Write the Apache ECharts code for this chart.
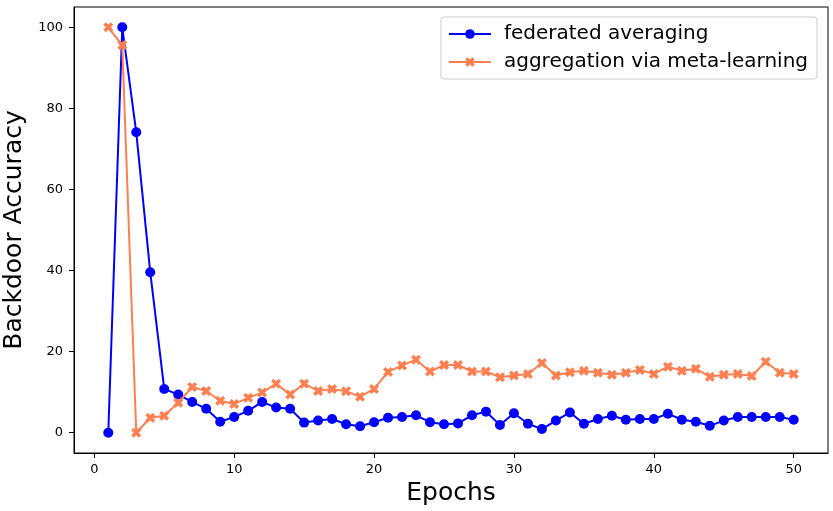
<!DOCTYPE html>
<html><head><meta charset="utf-8">
<script src="https://cdn.jsdelivr.net/npm/echarts@6/dist/echarts.min.js"></script>
<style>html,body{margin:0;padding:0;background:#fff}#c{width:833px;height:511px}</style>
</head><body><div id="c"></div>
<script>
const epochs = Array.from({length:50},(_,i)=>i+1);
const fedAvg = [0,100,74.1,39.6,10.8,9.4,7.6,5.9,2.7,3.9,5.4,7.6,6.2,5.9,2.5,3.0,3.4,2.1,1.6,2.6,3.7,3.9,4.3,2.6,2.1,2.3,4.3,5.2,1.9,4.8,2.2,0.9,3.0,5.0,2.2,3.4,4.2,3.2,3.4,3.4,4.7,3.2,2.7,1.7,3.0,3.9,3.9,3.9,3.9,3.2];
const metaAgg = [100,95.6,0,3.7,4.2,7.4,11.3,10.3,7.9,7.1,8.6,9.9,12.1,9.4,12.1,10.3,10.8,10.2,8.9,10.8,15.0,16.6,18.0,15.1,16.7,16.7,15.1,15.1,13.7,14.1,14.5,17.2,14.1,14.9,15.3,14.8,14.3,14.8,15.5,14.5,16.3,15.3,15.8,13.8,14.3,14.5,14.0,17.5,14.8,14.5];
const xTicks = [0,10,20,30,40,50];
const yTicks = [0,20,40,60,80,100];
const seriesNames = ['federated averaging','aggregation via meta-learning'];

const xMark = 'path://M1,0 L2,1 L3,0 L4,1 L3,2 L4,3 L3,4 L2,3 L1,4 L0,3 L1,2 L0,1 Z';
const chart = echarts.init(document.getElementById('c'));
const font = 'DejaVu Sans';
chart.setOption({
  animation:false,
  textStyle:{fontFamily:font},
  grid:{left:74,right:5,top:7,bottom:58,outerBoundsMode:'none',containLabel:false,show:true,borderColor:'#000',borderWidth:1},
  legend:{
    right:16, top:17, orient:'vertical',
    data:seriesNames,
    itemWidth:42, itemHeight:12, itemGap:8,
    padding:[7,9,7,7],
    borderColor:'#cccccc', borderWidth:1, borderRadius:3,
    textStyle:{fontFamily:font,fontSize:20,color:'#000',padding:[0,0,0,8]}
  },
  xAxis:{
    type:'value', min:-1.45, max:52.45,
    name:'Epochs', nameLocation:'middle', nameGap:28,
    nameTextStyle:{fontFamily:font,fontSize:25,color:'#000'},
    axisLine:{show:true,onZero:false,lineStyle:{color:'#000',width:1}},
    axisTick:{show:true,length:5,lineStyle:{color:'#000'},customValues:xTicks},
    axisLabel:{color:'#000',fontSize:13,fontFamily:font,margin:10,customValues:xTicks},
    splitLine:{show:false}
  },
  yAxis:{
    type:'value', min:-5, max:105,
    name:'Backdoor Accuracy', nameLocation:'middle', nameGap:42,
    nameTextStyle:{fontFamily:font,fontSize:25,color:'#000'},
    axisLine:{show:true,onZero:false,lineStyle:{color:'#000',width:1}},
    axisTick:{show:true,length:5,lineStyle:{color:'#000'},customValues:yTicks},
    axisLabel:{color:'#000',fontSize:13,fontFamily:font,margin:11,customValues:yTicks},
    splitLine:{show:false}
  },
  series:[
    {name:seriesNames[0],type:'line',data:epochs.map((e,i)=>[e,fedAvg[i]]),
     color:'#0000ff',lineStyle:{width:2,color:'#0000ff'},
     symbol:'circle',symbolSize:10,itemStyle:{color:'#0000ff'},z:2},
    {name:seriesNames[1],type:'line',data:epochs.map((e,i)=>[e,metaAgg[i]]),
     color:'#ff7f50',lineStyle:{width:2,color:'#ff7f50'},
     symbol:xMark,symbolSize:10,itemStyle:{color:'#ff7f50'},z:3}
  ]
});
</script></body></html>
